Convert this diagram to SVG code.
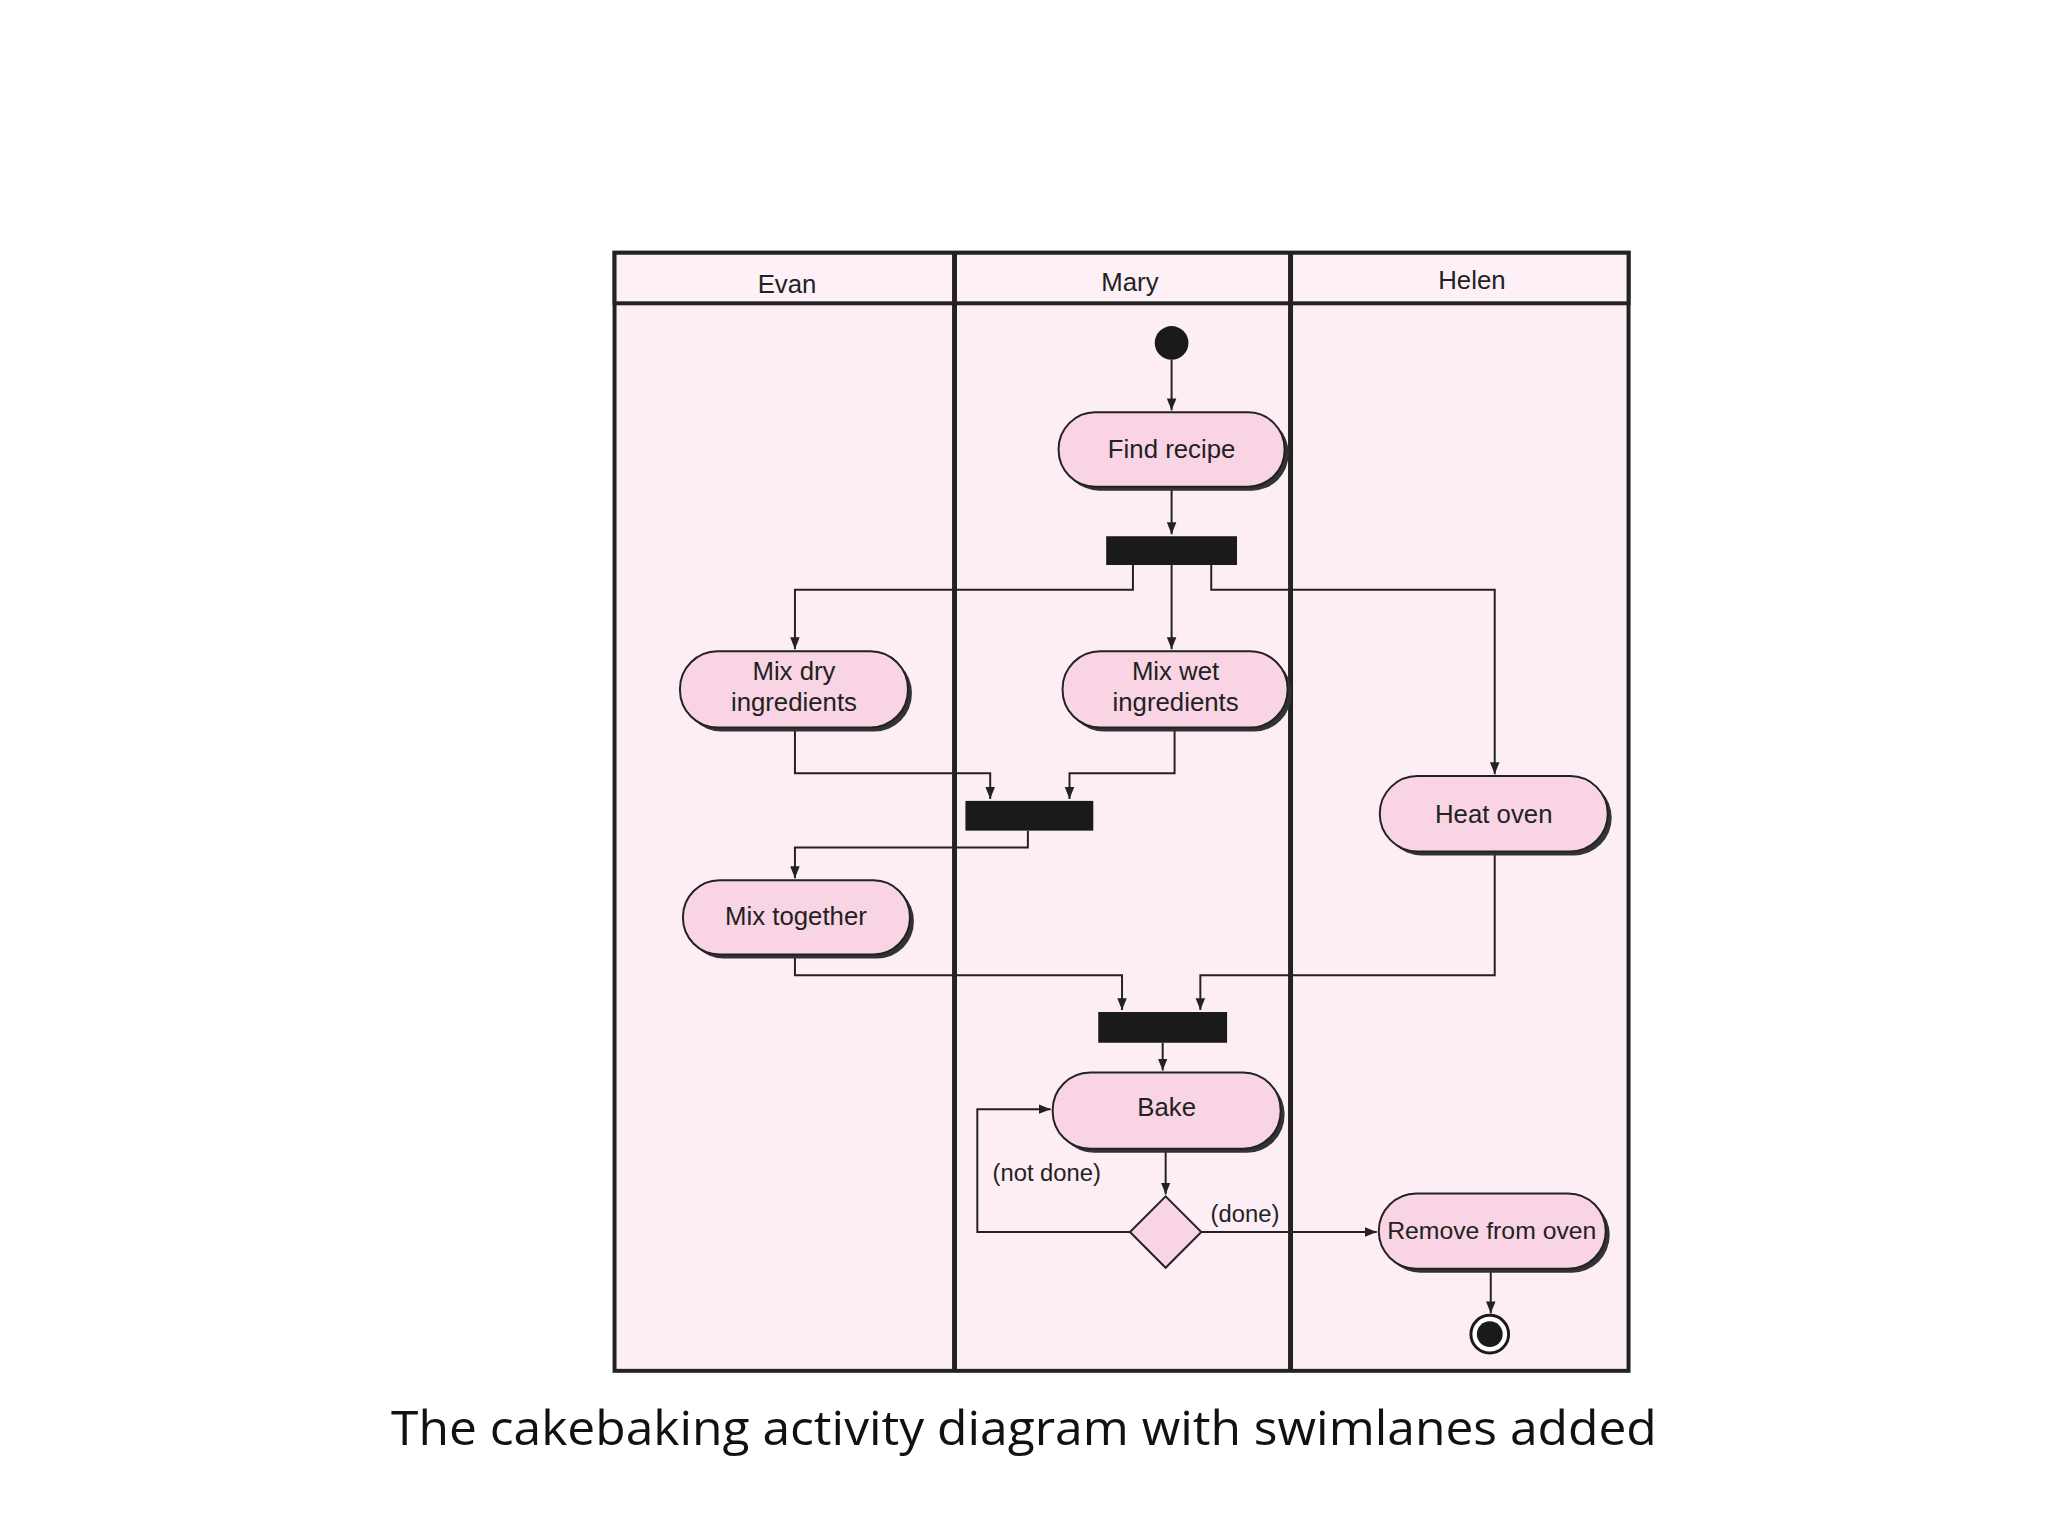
<svg xmlns="http://www.w3.org/2000/svg" width="2048" height="1536" viewBox="0 0 2048 1536">
<defs>
<marker id="ah" viewBox="0 0 10 10" refX="10" refY="5" markerWidth="6" markerHeight="6" orient="auto"><path d="M0,1 L10,5 L0,9 z" fill="#222"/></marker>
</defs>
<style>
.lane{fill:#fdedf5;stroke:#222;stroke-width:4}
.hdr{fill:#fdf0f6;stroke:#222;stroke-width:4}
.node{fill:#f9d4e4;stroke:#222;stroke-width:2}
.sh{fill:#333}
.t{font-family:"Liberation Sans",Arial,sans-serif;font-size:26px;fill:#222;text-anchor:middle}
.c{fill:none;stroke:#222;stroke-width:2;marker-end:url(#ah)}
.bar{fill:#1a1a1a}
</style>
<rect width="2048" height="1536" fill="#fff"/>
<g transform="scale(0.9912)">
<g id="lanes">
<rect class="lane" x="620" y="255" width="1023" height="1128"/>
<rect class="hdr" x="620" y="255" width="1023" height="51"/>
<line x1="963" y1="255" x2="963" y2="1383" stroke="#222" stroke-width="5"/>
<line x1="1302" y1="255" x2="1302" y2="1383" stroke="#222" stroke-width="5"/>
<text class="t" x="794" y="296">Evan</text>
<text class="t" x="1140" y="294">Mary</text>
<text class="t" x="1485" y="292">Helen</text>
</g>
<g id="connectors">
<path class="c" d="M1182,363 L1182,414"/>
<path class="c" d="M1182,491 L1182,539"/>
<path class="c" d="M1143,570 L1143,595 L802,595 L802,655"/>
<path class="c" d="M1182,570 L1182,655"/>
<path class="c" d="M1222,570 L1222,595 L1508,595 L1508,781"/>
<path class="c" d="M802,734 L802,780 L999,780 L999,806"/>
<path class="c" d="M1185,734 L1185,780 L1079,780 L1079,806"/>
<path class="c" d="M1037,838 L1037,855 L802,855 L802,886"/>
<path class="c" d="M802,963 L802,984 L1132,984 L1132,1019"/>
<path class="c" d="M1508,859 L1508,984 L1211,984 L1211,1019"/>
<path class="c" d="M1173,1052 L1173,1080"/>
<path class="c" d="M1176,1159 L1176,1205"/>
<path class="c" d="M1140,1243 L986,1243 L986,1119 L1060,1119"/>
<path class="c" d="M1212,1243 L1389,1243"/>
<path class="c" d="M1504,1280 L1504,1325"/>
<text class="t" x="1056" y="1192" style="font-size:24px">(not done)</text>
<text class="t" x="1256" y="1233" style="font-size:24px">(done)</text>
</g>
<g id="start"><circle cx="1182" cy="346" r="17" fill="#1a1a1a"/></g>
<g id="find"><rect class="sh" x="1072" y="420" width="228" height="75" rx="37"/><rect class="node" x="1068" y="416" width="228" height="75" rx="37"/><text class="t" x="1182" y="462">Find recipe</text></g>
<g id="fork1"><rect class="bar" x="1116" y="541" width="132" height="29"/></g>
<g id="mixdry"><rect class="sh" x="690" y="661" width="230" height="77" rx="38"/><rect class="node" x="686" y="657" width="230" height="77" rx="38"/><text class="t" x="801" y="686">Mix dry</text><text class="t" x="801" y="717">ingredients</text></g>
<g id="mixwet"><rect class="sh" x="1076" y="661" width="227" height="77" rx="38"/><rect class="node" x="1072" y="657" width="227" height="77" rx="38"/><text class="t" x="1186" y="686">Mix wet</text><text class="t" x="1186" y="717">ingredients</text></g>
<g id="heat"><rect class="sh" x="1396" y="787" width="230" height="76" rx="38"/><rect class="node" x="1392" y="783" width="230" height="76" rx="38"/><text class="t" x="1507" y="830">Heat oven</text></g>
<g id="join1"><rect class="bar" x="974" y="808" width="129" height="30"/></g>
<g id="mixtog"><rect class="sh" x="693" y="892" width="229" height="75" rx="37"/><rect class="node" x="689" y="888" width="229" height="75" rx="37"/><text class="t" x="803" y="933">Mix together</text></g>
<g id="join2"><rect class="bar" x="1108" y="1021" width="130" height="31"/></g>
<g id="bake"><rect class="sh" x="1066" y="1086" width="230" height="77" rx="38"/><rect class="node" x="1062" y="1082" width="230" height="77" rx="38"/><text class="t" x="1177" y="1126">Bake</text></g>
<g id="decision"><polygon points="1176,1207 1212,1243 1176,1279 1140,1243" fill="#f9d4e4" stroke="#222" stroke-width="2"/></g>
<g id="remove"><rect class="sh" x="1395" y="1208" width="229" height="76" rx="38"/><rect class="node" x="1391" y="1204" width="229" height="76" rx="38"/><text class="t" x="1505" y="1250" style="font-size:25px">Remove from oven</text></g>
<g id="end"><circle cx="1503" cy="1346" r="19" fill="#fff" stroke="#1a1a1a" stroke-width="3"/><circle cx="1503" cy="1346" r="13" fill="#1a1a1a"/></g>
<text x="1033" y="1458" font-family="'Open Sans',Calibri,sans-serif" font-size="48" text-anchor="middle" fill="#111" textLength="1277" lengthAdjust="spacingAndGlyphs">The cakebaking activity diagram with swimlanes added</text>
</g>
</svg>
